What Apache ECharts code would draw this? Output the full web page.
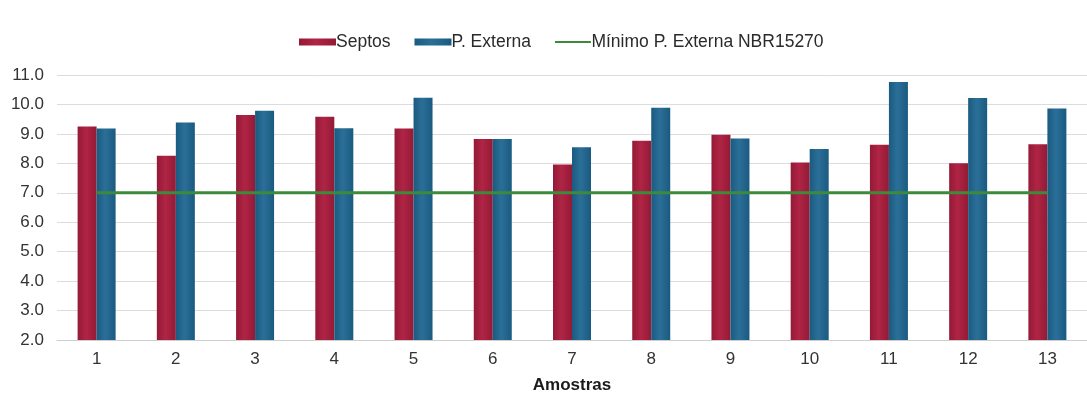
<!DOCTYPE html>
<html>
<head>
<meta charset="utf-8">
<script src="https://cdn.jsdelivr.net/npm/echarts@6/dist/echarts.min.js"></script>
<style>
  html, body { margin: 0; padding: 0; background: #ffffff; }
  #chart { width: 1087px; height: 399px; }
</style>
</head>
<body>
<div id="chart"></div>
<script>
// Amostras 1..13
const categories = ['1', '2', '3', '4', '5', '6', '7', '8', '9', '10', '11', '12', '13'];
// Resistência dos septos
const septos = [9.25, 8.26, 9.64, 9.58, 9.18, 8.83, 7.96, 8.77, 8.97, 8.03, 8.63, 8.0, 8.65];
// Resistência da parede externa
const pExterna = [9.18, 9.39, 9.79, 9.19, 10.23, 8.83, 8.55, 9.89, 8.84, 8.49, 10.76, 10.22, 9.86];
// Valor mínimo exigido pela norma
const minimoNBR = [7.0, 7.0, 7.0, 7.0, 7.0, 7.0, 7.0, 7.0, 7.0, 7.0, 7.0, 7.0, 7.0];

const FONT = '"Liberation Sans", Arial, sans-serif';
const GREEN = '#3d8a3d';

function barGradient(dark, light) {
  return new echarts.graphic.LinearGradient(0, 0, 1, 0, [
    { offset: 0, color: dark },
    { offset: 0.45, color: light },
    { offset: 1, color: dark }
  ]);
}

// thin horizontal stroke centred in the legend icon box (corner specks keep the box height)
const lineIcon = 'path://M0,0L0.01,0L0.01,0.01Z M0,2.6H36V4.4H0Z M0,7L0.01,7L0.01,6.99Z';

const chart = echarts.init(document.getElementById('chart'), null, { renderer: 'canvas' });

chart.setOption({
  animation: false,
  backgroundColor: '#ffffff',
  textStyle: { fontFamily: FONT },
  legend: {
    top: 28,
    left: 294,
    itemGap: 24,
    itemWidth: 37,
    itemHeight: 7,
    textStyle: { fontFamily: FONT, fontSize: 17.5, color: '#2a2a2a', padding: [0, 0, 0, -5] },
    data: [
      { name: 'Septos', icon: 'rect' },
      { name: 'P. Externa', icon: 'rect' },
      { name: 'Mínimo P. Externa NBR15270', icon: lineIcon, itemStyle: { color: GREEN } }
    ]
  },
  grid: { left: 57, right: -5, top: 75, bottom: 59, containLabel: false },
  xAxis: {
    type: 'category',
    data: categories,
    name: 'Amostras',
    nameLocation: 'middle',
    nameGap: 37,
    nameTextStyle: { fontFamily: FONT, fontSize: 17, fontWeight: 'bold', color: '#1a1a1a' },
    axisLine: { show: true, lineStyle: { color: '#cfcfcf', width: 1 } },
    axisTick: { show: false },
    axisLabel: { fontFamily: FONT, fontSize: 17, color: '#333333', margin: 11 }
  },
  yAxis: {
    type: 'value',
    min: 2,
    max: 11,
    interval: 1,
    axisLine: { show: false },
    axisTick: { show: false },
    axisLabel: {
      fontFamily: FONT, fontSize: 17, color: '#333333', margin: 13,
      formatter: v => v.toFixed(1)
    },
    splitLine: { lineStyle: { color: '#dcdcdc', width: 1 } }
  },
  series: [
    {
      name: 'Septos',
      type: 'bar',
      data: septos,
      barWidth: 19,
      barGap: '0%',
      itemStyle: { color: barGradient('#931a36', '#b02445') },
      z: 2
    },
    {
      name: 'P. Externa',
      type: 'bar',
      data: pExterna,
      barWidth: 19,
      barGap: '0%',
      itemStyle: { color: barGradient('#1a5a80', '#2b6f98') },
      z: 2
    },
    {
      name: 'Mínimo P. Externa NBR15270',
      type: 'line',
      data: minimoNBR,
      symbol: 'none',
      lineStyle: { color: GREEN, width: 3 },
      itemStyle: { color: GREEN },
      z: 5
    }
  ]
});
</script>
</body>
</html>
